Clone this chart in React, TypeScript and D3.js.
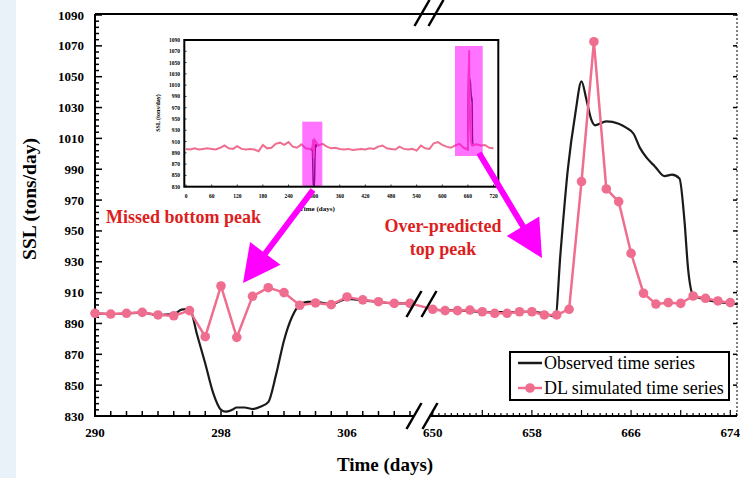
import React from "react";
import * as d3 from "d3";

// ---------- Data ----------
const obsDaysL = [290, 291, 292, 293, 294, 295, 295.5, 296, 296.5, 297, 297.5, 298, 298.3, 298.7, 299, 299.5, 300, 300.5, 301, 301.5, 302, 302.5, 303, 303.5, 304, 305, 306, 307, 308, 309, 310];
const obsValL = [896.5, 896, 896.5, 897, 895.5, 896, 899, 899.5, 882, 864, 845, 834, 832.8, 834, 835.5, 835.5, 834.5, 836, 839, 857, 879, 894, 902, 904, 904, 902.5, 906, 905, 904, 903, 903];

const obsDaysR = [650, 651, 652, 653, 654, 655, 656, 657, 658, 659, 659.9, 660.3, 660.9, 661.5, 662, 662.4, 662.8, 663.1, 664, 665, 665.6, 666.2, 666.7, 667.3, 667.9, 668.7, 669.3, 669.9, 670.3, 670.6, 671, 671.6, 672.9, 674, 674.6];
const obsValR = [899, 898.5, 898.5, 898, 897.5, 897.3, 897.3, 897.5, 897.5, 896.5, 894.5, 935, 990, 1026, 1047, 1035, 1022, 1018.5, 1021, 1019.5, 1017, 1013, 1004, 997, 992, 985.5, 986.5, 984, 957, 925, 908.5, 906.3, 904, 903, 902.5];

const simDaysL = [290, 291, 292, 293, 294, 295, 296, 297, 298, 299, 300, 301, 302, 303, 304, 305, 306, 307, 308, 309, 310];
const simValL = [896.6, 896.1, 896.6, 897.2, 895.5, 895, 898.3, 881.4, 914.3, 881, 907.6, 913.2, 910, 901.8, 903.3, 902.2, 907.2, 905.3, 904.1, 903, 903];

const simDaysR = [650, 651, 652, 653, 654, 655, 656, 657, 658, 659, 660, 661, 662, 663, 664, 665, 666, 667, 668, 669, 670, 671, 672, 673, 674];
const simValR = [899.2, 898.3, 898.3, 898.7, 897.6, 896.6, 896.6, 897.6, 897.6, 895.5, 895.5, 899.2, 982, 1072.7, 977.2, 969, 935.5, 909.6, 902.6, 903.5, 903, 907.8, 906.3, 904.6, 903.5];

// inset (full record) simulated series
const insetDays = [0, 10, 20, 30, 40, 50, 60, 70, 80, 90, 100, 110, 120, 130, 140, 150, 160, 170, 180, 190, 200, 210, 220, 230, 240, 250, 260, 270, 280, 290, 296, 298, 299, 300, 301, 310, 320, 330, 340, 350, 360, 370, 380, 390, 400, 410, 420, 430, 440, 450, 460, 470, 480, 490, 500, 510, 520, 530, 540, 550, 560, 570, 580, 590, 600, 610, 620, 630, 640, 650, 660, 662, 663, 664, 665, 666, 667, 670, 680, 690, 700, 710, 720];
const insetVals = [897, 896, 898, 896, 897, 898, 897, 896, 899, 903, 898, 897, 902, 897, 896, 897, 896, 893, 904, 898, 899, 906, 908, 904, 909, 901, 899, 905, 898, 897, 898, 914, 881, 908, 913, 903, 906, 901, 898, 899, 897, 896, 897, 895, 896, 897, 896, 898, 897, 901, 903, 898, 897, 896, 901, 897, 896, 897, 894, 903, 898, 897, 907, 909, 904, 901, 899, 903, 906, 899, 896, 982, 1072, 977, 969, 935, 910, 903, 905, 903, 904, 899, 898];

const yTicks = [830, 850, 870, 890, 910, 930, 950, 970, 990, 1010, 1030, 1050, 1070, 1090];
const xTicksL = [290, 298, 306];
const xTicksR = [650, 658, 666, 674];
const insetXTicks = [0, 60, 120, 180, 240, 300, 360, 420, 480, 540, 600, 660, 720];

const PINK = "#ef6e90";
const MAGENTA = "#ff00ff";
const RED = "#dc1e1e";
const SERIF = "'Liberation Serif', 'Times New Roman', serif";

export default function App() {
  const top = 15, bottom = 416, left = 95, right = 737;
  const y = d3.scaleLinear().domain([830, 1090]).range([bottom, top]);
  const xL = d3.scaleLinear().domain([290, 310]).range([95, 410]);
  const xR = d3.scaleLinear().domain([650, 674]).range([432.7, 730.3]);

  const lineL = d3.line<number>().x((d, i) => xL(obsDaysL[i])).y((d) => y(d)).curve(d3.curveMonotoneX);
  const lineR = d3.line<number>().x((d, i) => xR(obsDaysR[i])).y((d) => y(d)).curve(d3.curveMonotoneX);

  const simPts: [number, number][] = [
    ...simDaysL.map((d, i) => [xL(d), y(simValL[i])] as [number, number]),
    ...simDaysR.map((d, i) => [xR(d), y(simValR[i])] as [number, number]),
  ];
  const simLine = d3.line()(simPts) || "";

  // inset
  const ix = d3.scaleLinear().domain([0, 720]).range([186, 493.5]);
  const iy = d3.scaleLinear().domain([830, 1090]).range([186.7, 40]);
  const insetSim = d3.line<number>().x((d, i) => ix(insetDays[i])).y((d) => iy(d))(insetVals) || "";
  const insetObsL = d3.line<number>().x((d, i) => ix(obsDaysL[i])).y((d) => iy(d))(obsValL) || "";
  const insetObsR = d3.line<number>().x((d, i) => ix(obsDaysR[i])).y((d) => iy(d))(obsValR) || "";

  const yMinor = d3.range(830, 1091, 4);
  const xMinorL = d3.range(290, 310.01, 1);
  const xMinorR = d3.range(650, 674.6, 0.5);

  const arrow = (x1: number, y1: number, x2: number, y2: number, hl: number, hw: number) => {
    const dx = x2 - x1, dy = y2 - y1;
    const len = Math.hypot(dx, dy);
    const ux = dx / len, uy = dy / len;
    const bx = x2 - ux * hl, by = y2 - uy * hl;
    const nx = -uy, ny = ux;
    return (
      <g>
        <line x1={x1} y1={y1} x2={bx + ux * 2} y2={by + uy * 2} stroke={MAGENTA} strokeWidth={6} />
        <polygon points={`${x2},${y2} ${bx + nx * hw},${by + ny * hw} ${bx - nx * hw},${by - ny * hw}`} fill={MAGENTA} />
      </g>
    );
  };

  const slash = (cx: number, cy: number) => (
    <line x1={cx - 7.5} y1={cy + 13} x2={cx + 7.5} y2={cy - 13} stroke="#000" strokeWidth={2.5} />
  );

  return (
    <svg width={740} height={478} style={{ position: "absolute", left: 0, top: 0, background: "#fff" }}
      fontFamily={SERIF}>
      <rect x={0} y={0} width={740} height={478} fill="#fff" />
      <rect x={0} y={0} width={16} height={478} fill="#e8f2f8" />

      {/* right dotted axis */}
      <line x1={right} y1={top - 1} x2={right} y2={bottom} stroke="#000" strokeWidth={1} strokeDasharray="2,2" />
      {yTicks.map((t) => (
        <line key={"ry" + t} x1={right - 4} x2={right} y1={y(t)} y2={y(t)} stroke="#000" strokeWidth={1.5} />
      ))}

      {/* left axis */}
      <line x1={left} y1={top - 1} x2={left} y2={bottom + 1} stroke="#000" strokeWidth={2} />
      {yMinor.map((t) => (
        <line key={"ym" + t} x1={left} x2={left + (t % 20 === 10 ? 7 : 4)} y1={y(t)} y2={y(t)} stroke="#000" strokeWidth={1.5} />
      ))}
      {yTicks.map((t) => (
        <text key={"yl" + t} x={84} y={y(t) + 4.5} textAnchor="end" fontSize={13} fontWeight="bold">{t}</text>
      ))}

      {/* top frame */}
      <line x1={left} y1={top - 1} x2={right} y2={top - 1} stroke="#000" strokeWidth={2} />

      {/* bottom axis */}
      <line x1={left} y1={bottom} x2={414} y2={bottom} stroke="#000" strokeWidth={2} />
      <line x1={430} y1={bottom} x2={right} y2={bottom} stroke="#000" strokeWidth={2} />
      {xMinorL.map((t) => (
        <line key={"xl" + t} x1={xL(t)} x2={xL(t)} y1={bottom} y2={bottom - 5} stroke="#000" strokeWidth={1.5} />
      ))}
      {xMinorR.map((t) => (
        <line key={"xr" + t} x1={xR(t)} x2={xR(t)} y1={bottom} y2={bottom - ((t - 650) % 4 === 0 ? 6 : 3)} stroke="#000" strokeWidth={1.2} />
      ))}
      {xTicksL.map((t) => (
        <text key={"xlt" + t} x={xL(t)} y={437} textAnchor="middle" fontSize={13} fontWeight="bold">{t}</text>
      ))}
      {xTicksR.map((t) => (
        <text key={"xrt" + t} x={xR(t)} y={437} textAnchor="middle" fontSize={13} fontWeight="bold">{t}</text>
      ))}

      {/* axis titles */}
      <text x={385} y={471} textAnchor="middle" fontSize={19} fontWeight="bold">Time (days)</text>
      <text transform="translate(36,199) rotate(-90)" textAnchor="middle" fontSize={19.5} fontWeight="bold">SSL (tons/day)</text>

      {/* observed */}
      <path d={lineL(obsValL) || ""} fill="none" stroke="#1a1a1a" strokeWidth={2.2} />
      <path d={lineR(obsValR) || ""} fill="none" stroke="#1a1a1a" strokeWidth={2.2} />

      {/* simulated */}
      <path d={simLine} fill="none" stroke={PINK} strokeWidth={2.5} />
      {simPts.map((p, i) => (
        <circle key={"sp" + i} cx={p[0]} cy={p[1]} r={4.8} fill={PINK} />
      ))}

      {/* break marks */}
      <rect x={415} y={bottom - 3} width={15} height={6} fill="#fff" />
      {slash(414, bottom)}
      {slash(430, bottom)}
      {slash(414, 304)}
      {slash(429, 304)}
      {slash(422, 13)}
      {slash(436, 13)}

      {/* inset */}
      <g>
        <rect x={184.3} y={40} width={314} height={146.7} fill="#fff" />
        <path d={insetObsL} fill="none" stroke="#1a1a1a" strokeWidth={1.5} />
        <path d={insetObsR} fill="none" stroke="#1a1a1a" strokeWidth={1.5} />
        <path d={insetSim} fill="none" stroke={PINK} strokeWidth={2} />
        <rect x={302.3} y={121.7} width={20} height={65} fill={MAGENTA} opacity={0.55} />
        <rect x={455} y={46} width={27.7} height={110} fill={MAGENTA} opacity={0.55} />
        <rect x={184.3} y={40} width={314} height={146.7} fill="none" stroke="#000" strokeWidth={2} />
        {yTicks.map((t) => (
          <g key={"iy" + t}>
            <line x1={184.3} x2={186.5} y1={iy(t)} y2={iy(t)} stroke="#000" strokeWidth={0.8} />
            <text x={180} y={iy(t) + 2} textAnchor="end" fontSize={5.5} fontWeight="bold">{t}</text>
          </g>
        ))}
        {insetXTicks.map((t) => (
          <g key={"ix" + t}>
            <line x1={ix(t)} x2={ix(t)} y1={186.7} y2={184.5} stroke="#000" strokeWidth={0.8} />
            <text x={ix(t)} y={198} textAnchor="middle" fontSize={5.5} fontWeight="bold">{t}</text>
          </g>
        ))}
        <text x={317} y={211} textAnchor="middle" fontSize={7} fontWeight="bold">Time (days)</text>
        <text transform="translate(160,113) rotate(-90)" textAnchor="middle" fontSize={6} fontWeight="bold">SSL (tons/day)</text>
      </g>

      {/* arrows */}
      {arrow(313, 190, 243, 283, 37, 19)}
      {arrow(479, 153, 542, 258, 37, 19)}

      {/* annotations */}
      <text x={106} y={223} fontSize={18} fontWeight="bold" fill={RED}>Missed bottom peak</text>
      <text x={443} y={232} textAnchor="middle" fontSize={18} fontWeight="bold" fill={RED}>Over-predicted</text>
      <text x={443} y={255} textAnchor="middle" fontSize={18} fontWeight="bold" fill={RED}>top peak</text>

      {/* legend */}
      <rect x={510} y={352} width={219} height={48} fill="#fff" stroke="#000" strokeWidth={2} />
      <line x1={518} x2={542} y1={363} y2={363} stroke="#1a1a1a" strokeWidth={2.5} />
      <text x={544} y={369} fontSize={18}>Observed time series</text>
      <line x1={518} x2={542} y1={388} y2={388} stroke={PINK} strokeWidth={2.5} />
      <circle cx={530} cy={388} r={4.8} fill={PINK} />
      <text x={544} y={394} fontSize={18}>DL simulated time series</text>
    </svg>
  );
}
